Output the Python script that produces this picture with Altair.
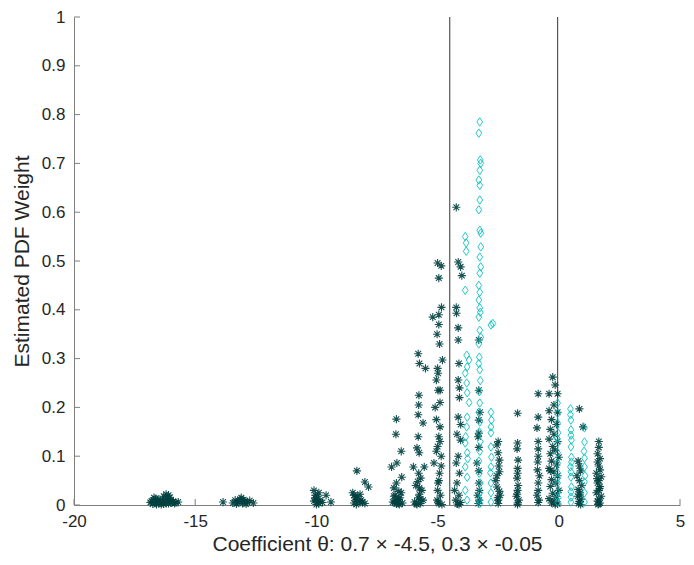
import altair as alt
import pandas as pd

# ---- asterisk series (dark teal) : x values and PDF weights, by cluster ----
ast_x = [
    # cluster near -16.3
    -16.8, -16.7, -16.6, -16.5, -16.4, -16.3, -16.2, -16.1, -16.0, -15.9, -15.8, -16.75, -16.55,
    -16.35, -16.15, -15.95, -16.65, -16.45, -16.25, -16.05, -15.85, -16.6, -16.3, -16.0, -16.2,
    -16.85, -16.4, -16.1, -15.7,
    # cluster near -13.1
    -13.85, -13.45, -13.35, -13.25, -13.15, -13.05, -12.95, -12.85, -12.75, -12.6, -13.3, -13.1,
    -12.9, -13.2, -13.0,
    # cluster near -9.9
    -10.1, -10.05, -10.0, -9.95, -9.9, -10.1, -9.95, -9.85, -9.6, -9.75, -9.4, -10.0, -9.9, -10.05,
    # cluster near -8.2
    -8.33, -8.0, -7.85, -8.5, -8.45, -8.4, -8.35, -8.3, -8.2, -8.15, -8.1, -8.0, -8.45, -8.3, -8.2, -8.35,
    # cluster near -6.65
    -6.7, -6.72, -6.5, -6.68, -6.9, -6.48, -6.7, -6.8, -6.6, -6.75, -6.55, -6.65, -6.85, -6.45,
    -6.7, -6.6, -6.8, -6.5, -6.62, -6.72, -6.58, -6.78,
    # cluster near -5.75
    -5.8, -5.75, -5.5, -5.77, -5.78, -5.8, -5.6, -5.8, -5.85, -5.76, -6.0, -5.55, -5.78, -5.7,
    -5.82, -5.9, -5.65, -5.75, -5.8, -5.6, -5.95, -5.7, -5.85, -5.75, -5.72, -5.88,
    # cluster near -4.95
    -5.0, -4.85, -4.95, -4.84, -5.2, -4.95, -4.95, -5.02, -4.92, -4.8, -4.98, -5.05, -4.9, -4.98,
    -5.1, -4.9, -4.95, -5.0, -4.85, -5.15, -4.92, -4.98, -4.88, -5.02, -4.95, -4.82, -5.05, -4.9,
    -5.0, -4.95, -4.85, -5.0, -4.9, -5.05, -4.97,
    # cluster near -4.15
    -4.23, -4.15, -4.05, -4.0, -4.23, -4.22, -4.15, -4.15, -4.12, -4.15, -4.1, -4.15, -4.05, -4.05,
    -4.15, -4.23, -4.1, -4.3, -4.2, -4.12, -4.25, -4.05, -4.18, -4.1, -4.2, -4.12,
    # cluster near -3.3
    -3.3, -3.3, -3.3, -3.33, -3.3, -3.38, -3.3, -3.28, -3.32, -3.3, -3.35, -3.25, -3.3, -3.28,
    # cluster near -2.5
    -2.55, -2.5, -2.45, -2.45, -2.55, -2.5, -2.6, -2.42, -2.5, -2.48, -2.55, -2.45, -2.5, -2.52,
    # cluster near -1.7
    -1.7, -1.7, -1.72, -1.68, -1.7, -1.72, -1.68, -1.7, -1.75, -1.65, -1.7, -1.7, -1.7, -1.72,
    # cluster near -0.85
    -0.85, -0.85, -0.9, -0.85, -0.85, -0.88, -0.85, -0.82, -0.85, -0.9, -0.8, -0.85, -0.87, -0.85,
    # cluster near -0.2
    -0.25, -0.15, -0.4, -0.05, -0.4, -0.05, -0.3, -0.1, -0.35, -0.2, -0.4, -0.05, -0.25, -0.15,
    -0.35, 0.0, -0.3, -0.1, -0.4, -0.2, -0.05, -0.3, -0.15, -0.35, 0.0, -0.25, -0.1, -0.4, -0.2,
    -0.3, -0.05, -0.15, -0.2, -0.35,
    # cluster near 0.85
    0.85, 1.0, 0.8, 0.85, 0.9, 0.75, 0.85, 0.95, 0.8, 0.88, 0.78, 0.92, 0.85, 0.82, 0.9, 0.86,
    # cluster near 1.65
    1.65, 1.65, 1.6, 1.7, 1.6, 1.65, 1.7, 1.55, 1.75, 1.65, 1.6, 1.7, 1.65, 1.55, 1.75, 1.65,
    1.6, 1.7, 1.65, 1.62, 1.68, 1.58,
]
ast_y = [
    0.008, 0.015, 0.004, 0.012, 0.006, 0.018, 0.003, 0.02, 0.01, 0.007, 0.005, 0.002, 0.009,
    0.011, 0.014, 0.006, 0.013, 0.004, 0.008, 0.016, 0.003, 0.001, 0.002, 0.004, 0.022,
    0.005, 0.001, 0.003, 0.006,
    0.006, 0.004, 0.01, 0.006, 0.012, 0.003, 0.008, 0.005, 0.009, 0.004, 0.002, 0.015,
    0.002, 0.007, 0.011,
    0.03, 0.02, 0.012, 0.006, 0.003, 0.008, 0.018, 0.01, 0.02, 0.005, 0.006, 0.001, 0.025, 0.015,
    0.07, 0.047, 0.037, 0.025, 0.02, 0.015, 0.012, 0.008, 0.005, 0.01, 0.006, 0.003, 0.004, 0.018, 0.022, 0.001,
    0.176, 0.145, 0.11, 0.086, 0.078, 0.057, 0.045, 0.035, 0.028, 0.02, 0.015, 0.01, 0.006, 0.004,
    0.002, 0.012, 0.018, 0.025, 0.003, 0.008, 0.001, 0.005,
    0.31, 0.29, 0.28, 0.225, 0.205, 0.185, 0.168, 0.14, 0.117, 0.107, 0.078, 0.078, 0.065, 0.055,
    0.048, 0.04, 0.03, 0.022, 0.015, 0.01, 0.006, 0.003, 0.001, 0.035, 0.012, 0.002,
    0.496, 0.49, 0.465, 0.405, 0.385, 0.39, 0.37, 0.35, 0.33, 0.297, 0.27, 0.256, 0.235, 0.235,
    0.2, 0.16, 0.14, 0.12, 0.1, 0.086, 0.065, 0.045, 0.02, 0.01, 0.003, 0.001, 0.175, 0.21,
    0.28, 0.05, 0.08, 0.03, 0.13, 0.11, 0.006,
    0.61, 0.498, 0.488, 0.47, 0.405, 0.393, 0.363, 0.338, 0.29, 0.256, 0.22, 0.18, 0.165, 0.133,
    0.1, 0.086, 0.065, 0.03, 0.045, 0.02, 0.01, 0.005, 0.002, 0.24, 0.145, 0.001,
    0.338, 0.235, 0.174, 0.14, 0.118, 0.086, 0.045, 0.01, 0.003, 0.07, 0.02, 0.19, 0.147, 0.03,
    0.123, 0.107, 0.092, 0.068, 0.037, 0.01, 0.05, 0.02, 0.003, 0.08, 0.06, 0.028, 0.13, 0.015,
    0.188, 0.127, 0.115, 0.092, 0.075, 0.055, 0.04, 0.03, 0.018, 0.01, 0.004, 0.001, 0.065, 0.022,
    0.228, 0.18, 0.158, 0.13, 0.1, 0.072, 0.045, 0.01, 0.03, 0.02, 0.06, 0.005, 0.088, 0.115,
    0.262, 0.246, 0.228, 0.228, 0.193, 0.19, 0.175, 0.165, 0.155, 0.145, 0.135, 0.13, 0.12, 0.112,
    0.105, 0.098, 0.09, 0.082, 0.075, 0.068, 0.06, 0.052, 0.045, 0.038, 0.03, 0.024, 0.018, 0.013,
    0.008, 0.004, 0.002, 0.001, 0.205, 0.07,
    0.197, 0.16, 0.09, 0.08, 0.07, 0.06, 0.05, 0.04, 0.032, 0.025, 0.018, 0.012, 0.007, 0.003, 0.001, 0.022,
    0.13, 0.118, 0.105, 0.095, 0.088, 0.08, 0.072, 0.065, 0.058, 0.05, 0.045, 0.038, 0.03, 0.025,
    0.018, 0.012, 0.008, 0.004, 0.002, 0.001, 0.034, 0.054,
]

# ---- diamond series (cyan) ----
dia_x = [
    -3.86, -3.82, -3.82, -3.86, -3.8, -3.7, -3.78, -3.86, -3.8, -3.78, -3.7, -3.78, -3.86, -3.78,
    -3.86, -3.78, -3.86, -3.78, -3.8, -3.84, -3.76,
    -3.26, -3.3, -3.24, -3.22, -3.26, -3.3, -3.26, -3.26, -3.3, -3.26, -3.22, -3.22, -3.26, -3.22,
    -3.26, -3.3, -3.26, -3.3, -3.26, -3.3, -3.26, -3.22, -3.3, -3.28, -3.26, -3.24, -3.28, -3.26,
    -3.3, -3.26, -3.28, -3.24, -3.26, -3.3, -3.28, -3.24, -3.26, -3.28, -3.26, -3.24, -3.3,
    -2.8, -2.72, -2.8, -2.78, -2.8, -2.8, -2.8, -2.78, -2.8, -2.82, -2.8, -2.8, -2.8,
    -0.05, -0.05, -0.05, -0.03, -0.05, -0.05, -0.05, -0.05, -0.05, -0.05, -0.05, -0.07, -0.05, -0.03,
    0.48, 0.5, 0.5, 0.52, 0.5, 0.52, 0.48, 0.5, 0.52, 0.5, 0.5, 0.48, 0.5, 0.52, 0.5, 0.5,
    1.06, 1.06, 1.06, 1.06, 1.06, 1.06, 1.06, 1.04, 1.08,
]
dia_y = [
    0.55, 0.537, 0.52, 0.44, 0.307, 0.297, 0.283, 0.27, 0.25, 0.23, 0.21, 0.18, 0.127, 0.107,
    0.078, 0.057, 0.03, 0.01, 0.16, 0.14, 0.095,
    0.785, 0.762, 0.707, 0.70, 0.686, 0.666, 0.655, 0.625, 0.605, 0.563, 0.557, 0.529, 0.508, 0.488,
    0.475, 0.45, 0.436, 0.42, 0.404, 0.385, 0.358, 0.344, 0.33, 0.303, 0.277, 0.255, 0.232, 0.209,
    0.19, 0.17, 0.15, 0.13, 0.11, 0.09, 0.065, 0.045, 0.025, 0.01, 0.003, 0.395, 0.29,
    0.369, 0.372, 0.19, 0.174, 0.16, 0.148, 0.119, 0.098, 0.078, 0.066, 0.045, 0.025, 0.006,
    0.209, 0.188, 0.168, 0.148, 0.127, 0.107, 0.086, 0.066, 0.045, 0.025, 0.006, 0.137, 0.055, 0.015,
    0.197, 0.174, 0.154, 0.133, 0.119, 0.098, 0.078, 0.057, 0.037, 0.016, 0.006, 0.185, 0.143,
    0.088, 0.068, 0.027,
    0.158, 0.129, 0.096, 0.078, 0.047, 0.025, 0.006, 0.11, 0.06,
]

vlines = [-4.5, -0.05]
x_ticks = [-20, -15, -10, -5, 0, 5]
y_ticks = [0, 0.1, 0.2, 0.3, 0.4, 0.5, 0.6, 0.7, 0.8, 0.9, 1.0]

W, H = 606, 488
FONT = "Liberation Sans"
AX = "#7f7f7f"

ast = pd.DataFrame({"x": ast_x, "y": ast_y})
dia = pd.DataFrame({"x": dia_x, "y": dia_y})

xscale = alt.Scale(domain=[-20, 5], nice=False, zero=False)
yscale = alt.Scale(domain=[0, 1], nice=False)

ASTERISK = "M-1,0L1,0M0,-1L0,1M-0.7,-0.7L0.7,0.7M-0.7,0.7L0.7,-0.7"
DIAMOND = "M0,-1L0.68,0L0,1L-0.68,0Z"

xaxis = alt.Axis(values=x_ticks, title="Coefficient θ:  0.7 × -4.5, 0.3 × -0.05",
                 grid=False, ticks=False, labelPadding=8, titlePadding=4,
                 labelExpr="'' + datum.value", labelFlush=False)
yaxis = alt.Axis(values=y_ticks, title="Estimated PDF Weight", grid=False, ticks=False,
                 labelPadding=9, titlePadding=9, format=".1~f", labelFlush=False)

pts_a = alt.Chart(ast).mark_point(
    shape=ASTERISK, filled=False, color="#004040", size=66, strokeWidth=1.1, opacity=0.9
).encode(x=alt.X("x:Q", scale=xscale, axis=xaxis), y=alt.Y("y:Q", scale=yscale, axis=yaxis))

pts_d = alt.Chart(dia).mark_point(
    shape=DIAMOND, filled=False, color="#00bfbf", size=72, strokeWidth=1.0, opacity=0.85
).encode(x=alt.X("x:Q", scale=xscale), y=alt.Y("y:Q", scale=yscale))

vl = alt.Chart(pd.DataFrame({"v": vlines})).mark_rule(color="#555555", strokeWidth=1.2).encode(
    x=alt.X("v:Q", scale=xscale), y=alt.value(0), y2=alt.value(H)
)

xt = alt.Chart(pd.DataFrame({"t": x_ticks})).mark_rule(color=AX, strokeWidth=1).encode(
    x=alt.X("t:Q", scale=xscale), y=alt.value(H), y2=alt.value(H - 6)
)
yt = alt.Chart(pd.DataFrame({"t": y_ticks})).mark_rule(color=AX, strokeWidth=1).encode(
    y=alt.Y("t:Q", scale=yscale), x=alt.value(0), x2=alt.value(6)
)

chart = alt.layer(vl, xt, yt, pts_a, pts_d).properties(
    width=W, height=H,
    autosize=alt.AutoSizeParams(type="none"),
    padding={"left": 66, "top": 9, "right": 6, "bottom": 52},
).configure_view(stroke=None).configure_axis(
    domainColor=AX, domainWidth=1,
    labelFont=FONT, labelFontSize=17, labelColor="#262626",
    titleFont=FONT, titleFontSize=21, titleColor="#262626", titleFontWeight="normal",
)

chart.save("out.html", embed_options={"renderer": "svg", "actions": False})
